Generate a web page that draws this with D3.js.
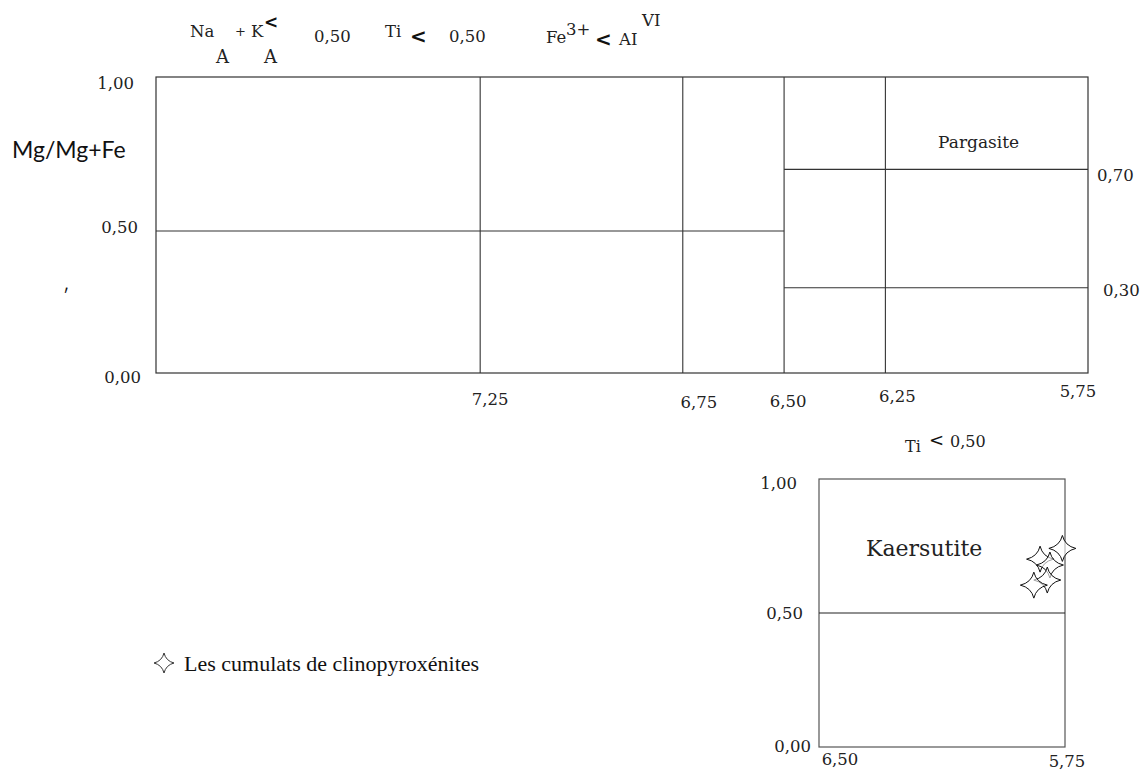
<!DOCTYPE html>
<html><head><meta charset="utf-8">
<script src="https://cdn.jsdelivr.net/npm/d3@7"></script>
<style>body{margin:0;background:#fff} svg{display:block}</style>
</head><body>
<script>
// ---------- data ----------
const mainXTicks   = [7.25, 6.75, 6.50, 6.25, 5.75];
const mainXLabels  = ["7,25", "6,75", "6,50", "6,25", "5,75"];
const mainYTicks   = [0, 0.5, 1.0];
const mainYLabels  = ["0,00", "0,50", "1,00"];
const mainVLines   = [7.25, 6.75, 6.50, 6.25];
const mainHLineY    = [0.50, 0.70, 0.30];
const mainHLineFrom = [8.05, 6.50, 6.50];
const mainHLineTo   = [6.50, 5.75, 5.75];
const rightValues  = [0.70, 0.30];
const rightLabels  = ["0,70", "0,30"];
const insetXTicks  = [6.50, 5.75];
const insetXLabels = ["6,50", "5,75"];
const insetYTicks  = [0, 0.5, 1.0];
const insetYLabels = ["0,00", "0,50", "1,00"];
const sampleX = [5.758, 5.826, 5.796, 5.804, 5.845];
const sampleY = [0.741, 0.701, 0.679, 0.623, 0.604];

// ---------- layout (styling) ----------
const W = 1146, H = 772;
const serif = "DejaVu Serif";
const svg = d3.select("body").append("svg").attr("width", W).attr("height", H)
  .style("font-family", serif);

const x = d3.scaleLinear().domain([8.05, 5.75]).range([156, 1088]);
const y = d3.scaleLinear().domain([0, 0.5, 1]).range([373, 231, 77]);

const g = svg.append("g");
g.append("rect").attr("x", x(8.05)).attr("y", y(1)).attr("width", x(5.75) - x(8.05))
  .attr("height", y(0) - y(1)).attr("fill", "none").attr("stroke", "#333").attr("stroke-width", 1.2);
g.selectAll(".vl").data(mainVLines).join("line")
  .attr("x1", d => x(d)).attr("x2", d => x(d)).attr("y1", y(0)).attr("y2", y(1))
  .attr("stroke", "#333").attr("stroke-width", 1.1);
g.selectAll(".hl").data(mainHLineY).join("line")
  .attr("x1", (d, i) => x(mainHLineFrom[i])).attr("x2", (d, i) => x(mainHLineTo[i]))
  .attr("y1", d => y(d)).attr("y2", d => y(d))
  .attr("stroke", "#333").attr("stroke-width", 1.1);

// x tick labels (hand placed offsets)
const xLabDx = [10, 16, 4, 12, -10];
const xLabY  = [405, 408, 407, 402, 397];
g.selectAll(".xl").data(mainXTicks).join("text")
  .attr("x", (d, i) => x(d) + xLabDx[i]).attr("y", (d, i) => xLabY[i])
  .attr("text-anchor", "middle").attr("font-size", 16.5).attr("fill", "#222")
  .text((d, i) => mainXLabels[i]);
// y tick labels
const yLabX = [141, 138, 134];
const yLabDy = [10, 2, 12];
g.selectAll(".yl").data(mainYTicks).join("text")
  .attr("x", (d, i) => yLabX[i]).attr("y", (d, i) => y(d) + yLabDy[i])
  .attr("text-anchor", "end").attr("font-size", 16.5).attr("fill", "#222")
  .text((d, i) => mainYLabels[i]);
// right labels
const rLabX = [1097, 1103], rLabDy = [12, 8];
g.selectAll(".rl").data(rightValues).join("text")
  .attr("x", (d, i) => rLabX[i]).attr("y", (d, i) => y(d) + rLabDy[i])
  .attr("font-size", 16.5).attr("fill", "#222")
  .text((d, i) => rightLabels[i]);
// Pargasite
g.append("text").attr("x", x(6.02)).attr("y", y(0.77)).attr("text-anchor", "middle")
  .attr("font-size", 17).attr("fill", "#222").text("Pargasite");

// axis title
svg.append("text").attr("x", 12).attr("y", 158).attr("font-family", "Lato")
  .attr("font-size", 23).attr("fill", "#111").text("Mg/Mg+Fe");
svg.append("text").attr("x", 66).attr("y", 302).attr("font-family", "Lato")
  .attr("font-size", 18).attr("text-anchor", "middle").attr("fill", "#111").text("\u2032");

// header conditions
const hdr = [
  {t: "Na", x: 190, y: 37, s: 16.5},
  {t: "A",  x: 216, y: 63, s: 18},
  {t: "+",  x: 235, y: 36, s: 13},
  {t: "K",  x: 251, y: 37, s: 16.5},
  {t: "A",  x: 264, y: 63, s: 18},
  {t: "0,50", x: 314, y: 42, s: 16.5},
  {t: "Ti", x: 385, y: 37, s: 16.5},
  {t: "0,50", x: 449, y: 42, s: 16.5},
  {t: "Fe", x: 546, y: 43, s: 16.5},
  {t: "3+", x: 566, y: 35, s: 16.5},
  {t: "AI", x: 619, y: 45, s: 16.5},
  {t: "VI", x: 642, y: 26, s: 16.5}
];
svg.selectAll(".hd").data(hdr).join("text")
  .attr("x", d => d.x).attr("y", d => d.y).attr("font-size", d => d.s)
  .attr("fill", "#222").text(d => d.t);
const lts = [{x: 264, y: 28, s: 17}, {x: 410, y: 43, s: 20}, {x: 595, y: 46, s: 20}];
svg.selectAll(".lt").data(lts).join("text")
  .attr("x", d => d.x).attr("y", d => d.y).attr("font-family", "DejaVu Sans")
  .attr("font-weight", "bold").attr("font-size", d => d.s).attr("fill", "#111").text("<");

// ---------- inset (Kaersutite) ----------
const xi = d3.scaleLinear().domain([6.50, 5.75]).range([819, 1065]);
const yi = d3.scaleLinear().domain([0, 1]).range([747, 479]);
const gi = svg.append("g");
gi.append("rect").attr("x", xi(6.5)).attr("y", yi(1)).attr("width", xi(5.75) - xi(6.5))
  .attr("height", yi(0) - yi(1)).attr("fill", "none").attr("stroke", "#555").attr("stroke-width", 1.2);
gi.append("line").attr("x1", xi(6.5)).attr("x2", xi(5.75)).attr("y1", yi(0.5)).attr("y2", yi(0.5))
  .attr("stroke", "#222").attr("stroke-width", 1.2);
const iyLabX = [811, 803, 797];
gi.selectAll(".iyl").data(insetYTicks).join("text")
  .attr("x", (d, i) => iyLabX[i]).attr("y", (d, i) => yi(d) + [5, 6, 10][i])
  .attr("text-anchor", "end").attr("font-size", 16.5).attr("fill", "#222")
  .text((d, i) => insetYLabels[i]);
const ixDx = [21, 2], ixY = [765, 767];
gi.selectAll(".ixl").data(insetXTicks).join("text")
  .attr("x", (d, i) => xi(d) + ixDx[i]).attr("y", (d, i) => ixY[i])
  .attr("text-anchor", "middle").attr("font-size", 16.5).attr("fill", "#222")
  .text((d, i) => insetXLabels[i]);
gi.append("text").attr("x", 866).attr("y", 556).attr("font-size", 22).attr("fill", "#222").text("Kaersutite");
gi.append("text").attr("x", 905).attr("y", 452).attr("font-size", 16).attr("fill", "#222").text("Ti");
gi.append("text").attr("x", 929).attr("y", 446).attr("font-family", "DejaVu Sans").attr("font-size", 18).attr("fill", "#111").text("<");
gi.append("text").attr("x", 950).attr("y", 447).attr("font-size", 16).attr("fill", "#222").text("0,50");

// star symbol (4-pointed, concave)
function starPath(rx, ry, c) {
  const p = d3.path();
  p.moveTo(0, -ry);
  p.quadraticCurveTo(c, -c, rx, 0);
  p.quadraticCurveTo(c, c, 0, ry);
  p.quadraticCurveTo(-c, c, -rx, 0);
  p.quadraticCurveTo(-c, -c, 0, -ry);
  p.closePath();
  return p.toString();
}
gi.selectAll(".st").data(sampleX).join("path")
  .attr("transform", (d, i) => `translate(${xi(d)},${yi(sampleY[i])})`)
  .attr("d", starPath(13.5, 13, 2.5))
  .attr("fill", "#fff").attr("fill-opacity", 0.6).attr("stroke", "#111").attr("stroke-width", 1);

// legend
svg.append("path").attr("transform", "translate(164,663)").attr("d", starPath(10, 10, 2))
  .attr("fill", "none").attr("stroke", "#333").attr("stroke-width", 1);
svg.append("text").attr("x", 184).attr("y", 671).attr("font-family", "Liberation Serif")
  .attr("font-size", 22).attr("fill", "#111").text("Les cumulats de clinopyroxénites");
</script>
</body></html>
